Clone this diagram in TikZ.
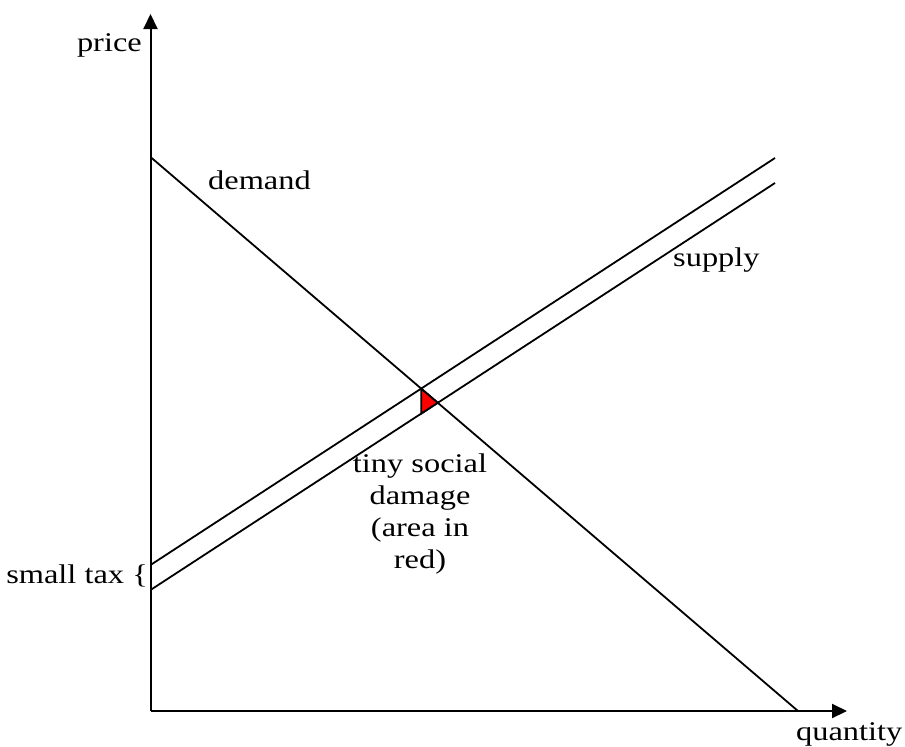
\documentclass[tikz,border=0pt]{standalone}
\usepackage{fontspec}
\setmainfont{Liberation Serif}[FakeStretch=1.2]
\usetikzlibrary{arrows.meta}
\begin{document}
\begin{tikzpicture}[x=1pt,y=-1pt,
  axis/.style={line width=2pt,-{Triangle[length=15pt,width=14pt]}},
  curve/.style={line width=1.8pt},
  lbl/.style={inner sep=0pt,font=\fontsize{27}{32}\selectfont}]
\useasboundingbox (0,0) rectangle (905,747);
% axes
\coordinate (O) at (150.5,711);
\coordinate (Ytop) at (150.5,14);
\coordinate (Xend) at (847,711);
\draw[axis] (O) -- (Ytop);
\draw[axis] (O) -- (Xend);
% demand
\coordinate (D1) at (150.5,157);
\coordinate (D2) at (798,711);
\draw[curve] (D1) -- (D2);
% supply lines
\coordinate (S1a) at (150.5,565);
\coordinate (S1b) at (775,158);
\coordinate (S2a) at (150.5,590);
\coordinate (S2b) at (775,183);
\draw[curve] (S1a) -- (S1b);
\draw[curve] (S2a) -- (S2b);
% red triangle
\coordinate (T1) at (intersection of D1--D2 and S1a--S1b);
\coordinate (T3) at (intersection of D1--D2 and S2a--S2b);
\coordinate (T2) at (intersection of T1--[shift={(0,10)}]T1 and S2a--S2b);
\filldraw[fill=red,draw=black,line width=1.8pt,line join=miter] (T1) -- (T2) -- (T3) -- cycle;
% labels
\node[lbl,anchor=base east] (price) at (142,51) {price};
\node[lbl,anchor=base west] (demand) at (208,189) {demand};
\node[lbl,anchor=base west] (supply) at (673,266) {supply};
\node[lbl,anchor=base east] (tax) at (148,583) {small tax \{};
\node[lbl,anchor=base west] (qty) at (796,740) {quantity};
\node[lbl,align=center,anchor=base] (dmg) at (420,568)
  {tiny social\\damage\\(area in\\red)};
\end{tikzpicture}
\end{document}
